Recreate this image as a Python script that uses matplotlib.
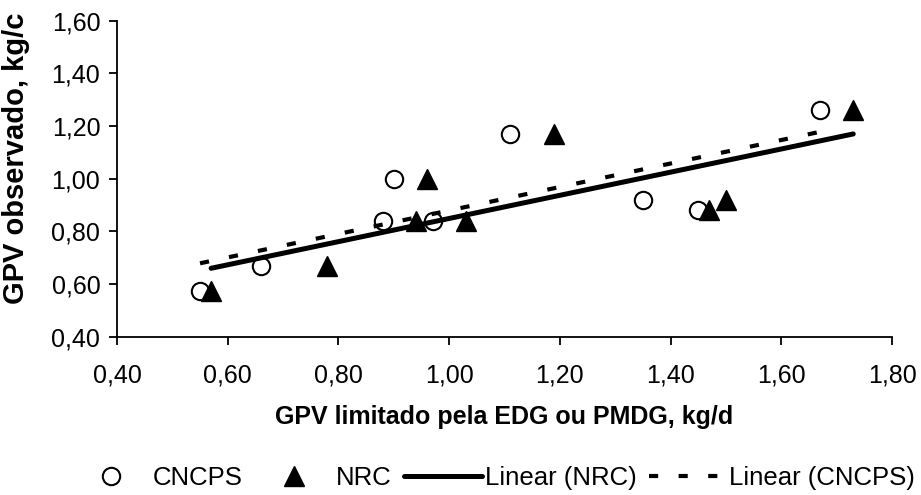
import matplotlib
matplotlib.use("Agg")
import matplotlib.pyplot as plt
from matplotlib.ticker import FuncFormatter
import numpy as np

plt.rcParams["font.family"] = ["Liberation Sans", "DejaVu Sans"]

# CNCPS (open circles)
cncps_x = [0.55, 0.66, 0.88, 0.90, 0.97, 1.11, 1.35, 1.45, 1.67]
cncps_y = [0.575, 0.67, 0.84, 1.00, 0.84, 1.17, 0.92, 0.88, 1.26]

# NRC (filled triangles)
nrc_x = [0.57, 0.78, 0.94, 0.96, 1.03, 1.19, 1.47, 1.50, 1.73]
nrc_y = [0.575, 0.67, 0.84, 1.00, 0.84, 1.17, 0.88, 0.92, 1.26]

x_ticks = [0.40, 0.60, 0.80, 1.00, 1.20, 1.40, 1.60, 1.80]
y_ticks = [0.40, 0.60, 0.80, 1.00, 1.20, 1.40, 1.60]


def trend(xs, ys):
    # least squares line over the range of the data (like Excel's linear trendline)
    b1, b0 = np.polyfit(xs, ys, 1)
    xx = np.array([min(xs), max(xs)])
    return xx, b0 + b1 * xx


W, H = 921, 495
fig = plt.figure(figsize=(W / 100, H / 100), dpi=100)
ax = fig.add_axes([117 / W, 1 - 336.7 / H, (892 - 117) / W, (336.7 - 20.7) / H])

h_c, = ax.plot(cncps_x, cncps_y, linestyle="none", marker="o", markersize=12.5,
               markerfacecolor="white", markeredgecolor="black",
               markeredgewidth=1.5, zorder=3, label="CNCPS")
h_n, = ax.plot(nrc_x, nrc_y, linestyle="none", marker="^", markersize=14,
               color="black", zorder=4, label="NRC")

tx, ty = trend(nrc_x, nrc_y)
h_ln, = ax.plot(tx, ty, color="black", lw=3.6, solid_capstyle="round",
                zorder=5, label="Linear (NRC)")
tx, ty = trend(cncps_x, cncps_y)
h_lc, = ax.plot(tx, ty, color="black", lw=3.0, dashes=(2.2, 4.9),
                dash_capstyle="butt", zorder=5, label="Linear (CNCPS)")

ax.set_xlim(0.40, 1.80)
ax.set_ylim(0.40, 1.60)
ax.set_xticks(x_ticks)
ax.set_yticks(y_ticks)
comma = FuncFormatter(lambda v, p: f"{v:.2f}".replace(".", ","))
ax.xaxis.set_major_formatter(comma)
ax.yaxis.set_major_formatter(comma)

for s in ["top", "right"]:
    ax.spines[s].set_visible(False)
for s in ["left", "bottom"]:
    ax.spines[s].set_linewidth(1.3)
ax.tick_params(axis="both", direction="out", length=5.5, width=1.3,
               labelsize=18, colors="black")
ax.tick_params(axis="x", pad=14)
ax.tick_params(axis="y", pad=6.5)

ax.set_xlabel("GPV limitado pela EDG ou PMDG, kg/d", fontsize=18,
              fontweight="bold")
ax.xaxis.set_label_coords(0.5, -0.216)
ax.set_ylabel("GPV observado, kg/c", fontsize=21, fontweight="bold")
ax.yaxis.set_label_coords(-0.112, 0.566)

fig.legend(handles=[h_c, h_n, h_ln, h_lc], loc="center",
           bbox_to_anchor=(494 / W, 1 - 478 / H), ncol=4, frameon=False,
           fontsize=18.5, handlelength=3.0, handletextpad=0.12,
           columnspacing=0.5, borderpad=0, borderaxespad=0)

fig.savefig("out.png", dpi=100)
